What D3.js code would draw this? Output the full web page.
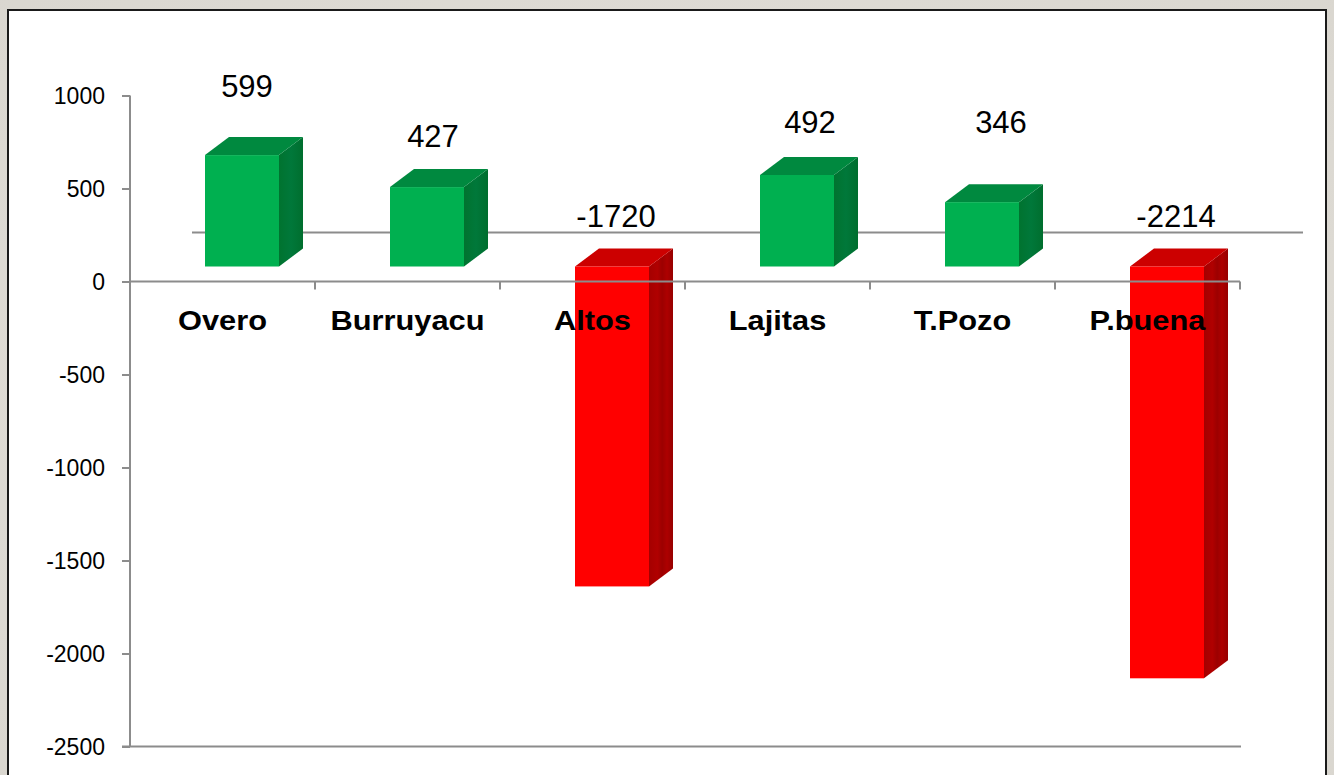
<!DOCTYPE html>
<html>
<head>
<meta charset="utf-8">
<script src="https://cdn.jsdelivr.net/npm/d3@7"></script>
<style>
  html, body { margin: 0; padding: 0; background: #e0ddd7; }
  svg { display: block; }
</style>
</head>
<body>
<svg id="chart" width="1334" height="775"></svg>
<script>
// Net balance per locality
const categories = ["Overo", "Burruyacu", "Altos", "Lajitas", "T.Pozo", "P.buena"];
const values = [599, 427, -1720, 492, 346, -2214];
const yTicks = [1000, 500, 0, -500, -1000, -1500, -2000, -2500];

// Small hand placements of the value labels (dx, dy in px)
const labelNudge = [[5, -18], [6, 0], [4, 0], [13, -2], [19, -29], [9, 0]];

const W = 1334, H = 775;
const svg = d3.select("#chart");

// Page background and white chart frame
const defs = svg.append("defs");
const bgGrad = defs.append("radialGradient").attr("id", "bg")
  .attr("cx", "50%").attr("cy", "50%").attr("r", "75%");
bgGrad.append("stop").attr("offset", "0%").attr("stop-color", "#e6e3dd");
bgGrad.append("stop").attr("offset", "100%").attr("stop-color", "#d9d6cf");
svg.append("rect").attr("width", W).attr("height", H).attr("fill", "url(#bg)");
svg.append("rect").attr("x", 8).attr("y", 10).attr("width", 1318).attr("height", H)
  .attr("fill", "#ffffff").attr("stroke", "#1a1a1a").attr("stroke-width", 2);

// Side-face gradients give the prisms their striped look
const redSide = defs.append("linearGradient").attr("id", "redSide")
  .attr("x1", "0%").attr("x2", "100%").attr("y1", "0%").attr("y2", "0%");
[["0%", "#a40000"], ["35%", "#b00000"], ["55%", "#9c0000"], ["75%", "#ad0000"], ["100%", "#960000"]]
  .forEach(([o, c]) => redSide.append("stop").attr("offset", o).attr("stop-color", c));
const greenSide = defs.append("linearGradient").attr("id", "greenSide")
  .attr("x1", "0%").attr("x2", "100%").attr("y1", "0%").attr("y2", "0%");
[["0%", "#00732f"], ["50%", "#00783a"], ["100%", "#006e2e"]]
  .forEach(([o, c]) => greenSide.append("stop").attr("offset", o).attr("stop-color", c));

const plot = { left: 130, right: 1240, top: 95.5, bottom: 746.5 };

const x = d3.scaleBand().domain(categories).range([plot.left, plot.right]).padding(0);
const y = d3.scaleLinear().domain([-2500, 1000]).range([plot.bottom, plot.top]);

// 3D geometry
const depthX = 24, depthY = -18;   // receding offset of top/side faces
const floorShift = 15;             // front faces sit slightly above the value axis zero
const barW = x.bandwidth() * 0.4;
const barShift = 19.5;

// Back floor line
svg.append("line")
  .attr("x1", plot.left + 62).attr("x2", plot.right + 63)
  .attr("y1", y(0) - floorShift - 34).attr("y2", y(0) - floorShift - 34)
  .attr("stroke", "#8c8c8c").attr("stroke-width", 2);

// Bars as prisms
const bars = svg.append("g").selectAll("g").data(values).join("g");
bars.each(function (v, i) {
  const g = d3.select(this);
  const cx = x(categories[i]) + x.bandwidth() / 2 + barShift;
  const x0 = cx - barW / 2, x1 = cx + barW / 2;
  const yTop = Math.min(y(v), y(0)) - floorShift;
  const yBot = Math.max(y(v), y(0)) - floorShift;
  const pos = v >= 0;
  const front = pos ? "#00b050" : "#ff0000";
  const top = pos ? "#00893f" : "#cc0000";
  const side = pos ? "url(#greenSide)" : "url(#redSide)";
  g.append("path")
    .attr("d", `M${x1},${yTop} L${x1 + depthX},${yTop + depthY} L${x1 + depthX},${yBot + depthY} L${x1},${yBot} Z`)
    .attr("fill", side);
  g.append("path")
    .attr("d", `M${x0},${yTop} L${x0 + depthX},${yTop + depthY} L${x1 + depthX},${yTop + depthY} L${x1},${yTop} Z`)
    .attr("fill", top);
  g.append("rect").attr("x", x0).attr("y", yTop).attr("width", barW).attr("height", yBot - yTop)
    .attr("fill", front);
});

// Value axis
const axisColor = "#8c8c8c";
const yAxis = svg.append("g").attr("transform", `translate(${plot.left},0)`)
  .call(d3.axisLeft(y).tickValues(yTicks).tickSize(8).tickPadding(17).tickFormat(d => String(d)));
yAxis.select(".domain").attr("stroke", axisColor).attr("stroke-width", 2)
  .attr("d", `M0,${plot.top}V${plot.bottom}`);
yAxis.selectAll(".tick line").attr("stroke", axisColor).attr("stroke-width", 2);
yAxis.selectAll(".tick text")
  .attr("font-family", "'Liberation Sans', Arial, sans-serif")
  .attr("font-size", 23).attr("fill", "#000").attr("dy", "0.36em");

// Bottom frame line of the plot
svg.append("line").attr("x1", plot.left - 8).attr("x2", plot.right + 1)
  .attr("y1", plot.bottom).attr("y2", plot.bottom)
  .attr("stroke", axisColor).attr("stroke-width", 2);

// Category axis at zero with tick marks between categories
const xAxisY = y(0);
svg.append("line").attr("x1", plot.left).attr("x2", plot.right)
  .attr("y1", xAxisY).attr("y2", xAxisY)
  .attr("stroke", axisColor).attr("stroke-width", 2);
const bounds = categories.map(c => x(c) + x.bandwidth());
svg.append("g").selectAll("line").data(bounds).join("line")
  .attr("x1", d => d).attr("x2", d => d)
  .attr("y1", xAxisY).attr("y2", xAxisY + 8)
  .attr("stroke", axisColor).attr("stroke-width", 2);

// Category labels
svg.append("g").selectAll("text").data(categories).join("text")
  .attr("transform", d => `translate(${x(d) + x.bandwidth() / 2},${xAxisY + 48}) scale(1.1,1)`)
  .attr("text-anchor", "middle")
  .attr("font-family", "'Liberation Sans', Arial, sans-serif")
  .attr("font-weight", "bold").attr("font-size", 28).attr("fill", "#000")
  .text(d => d);

// Value labels above each bar
svg.append("g").selectAll("text").data(values).join("text")
  .attr("x", (v, i) => x(categories[i]) + x.bandwidth() / 2 + barShift + labelNudge[i][0])
  .attr("y", (v, i) => Math.min(y(v), y(0)) - floorShift - 40 + labelNudge[i][1])
  .attr("text-anchor", "middle")
  .attr("font-family", "'Liberation Sans', Arial, sans-serif")
  .attr("font-size", 31).attr("fill", "#000")
  .text(v => v);
</script>
</body>
</html>
